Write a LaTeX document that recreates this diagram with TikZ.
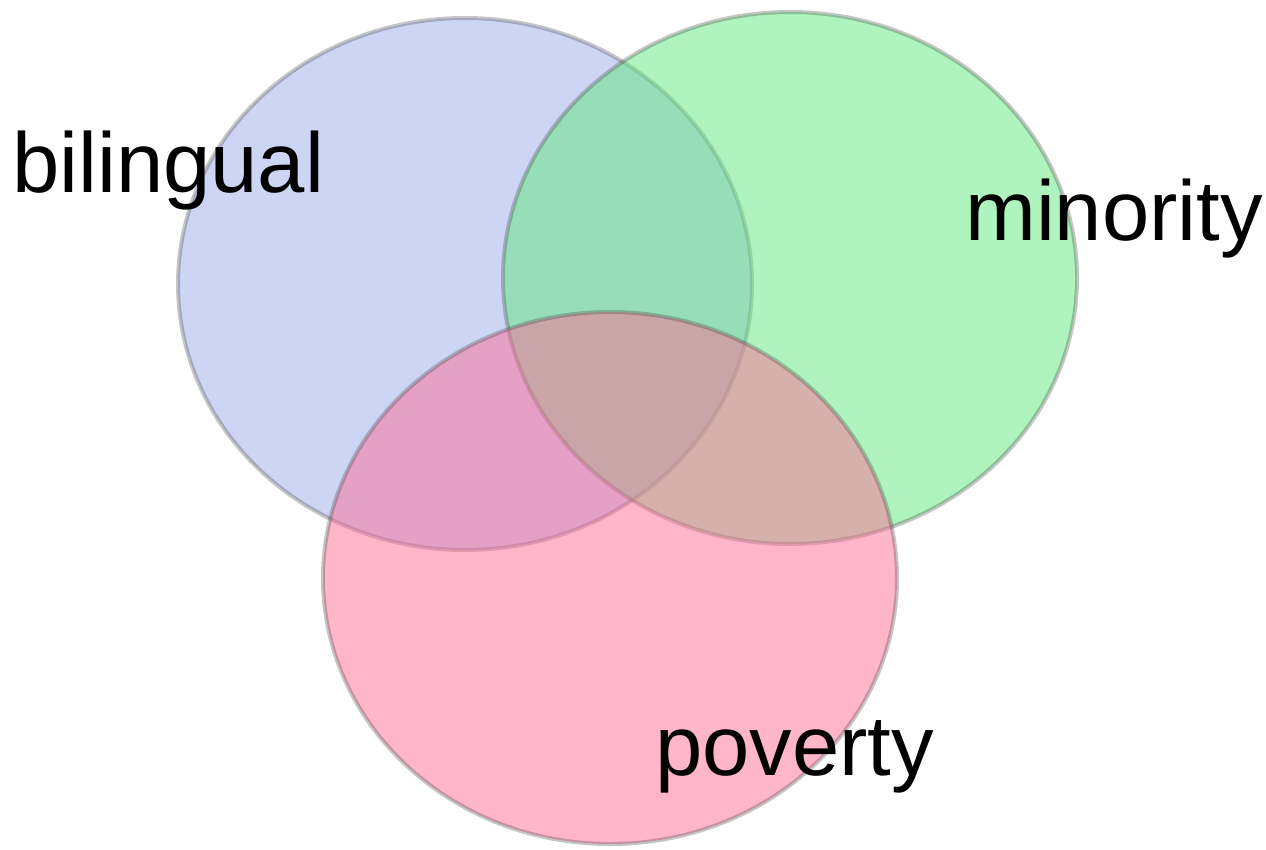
\documentclass[tikz,border=0pt]{standalone}
\usepackage{fontspec}
\setmainfont{Liberation Sans}
\usetikzlibrary{shapes.geometric, positioning}
\definecolor{bilblue}{RGB}{155,171,235}
\definecolor{minorgreen}{RGB}{95,232,125}
\definecolor{povpink}{RGB}{255,109,151}

\tikzset{
  venn/.style={ellipse, minimum width=574pt, minimum height=532pt, inner sep=0pt,
    fill opacity=0.5, draw=black!75, draw opacity=0.3, line width=4pt},
  setlabel/.style={anchor=base west, inner sep=0pt, font=\fontsize{85}{100}\selectfont}
}

\begin{document}
\begin{tikzpicture}[x=1pt, y=-1pt]
\useasboundingbox (0,0) rectangle (1266,849);

% Sets
\node[venn, fill=bilblue] (bil) at (465,284) {};
\node[venn, fill=minorgreen] (min) at (790,278) {};
\node[venn, fill=povpink] (pov) at (610,578) {};

% Labels
\node[setlabel] (bilname) at (12,192) {bilingual};
\node[setlabel] (minname) at (965,240) {minority};
\node[setlabel] (povname) at (655,775) {poverty};
\end{tikzpicture}
\end{document}
